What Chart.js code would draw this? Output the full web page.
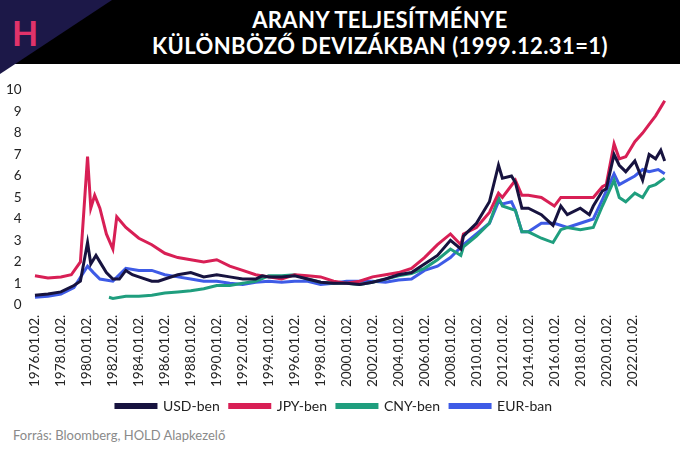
<!DOCTYPE html>
<html>
<head>
<meta charset="utf-8">
<script src="https://cdn.jsdelivr.net/npm/chart.js@4"></script>
<style>
  body { margin: 0; width: 680px; height: 453px; background: #fff; position: relative; overflow: hidden; font-family: Lato, sans-serif; }
  #head { position: absolute; left: 0; top: 0; width: 680px; height: 64px; background: #000; }
  #corner { position: absolute; left: 0; top: 0; width: 0; height: 0; border-top: 74px solid #1c1848; border-right: 112px solid transparent; }
  #logo { position: absolute; left: 12px; top: 12px; color: #e0336a; font: 700 34px Lato, sans-serif; }
  #title { position: absolute; left: 100px; width: 560px; top: 7px; text-align: center; color: #fff; font: 700 22px Lato, sans-serif; line-height: 26px; letter-spacing: 0.4px; }
  #wrap { position: absolute; left: 0; top: 78px; width: 680px; height: 345px; }
  #src { position: absolute; left: 13px; top: 427px; color: #8a8a8a; font-size: 13px; }
</style>
</head>
<body>
<div id="head"></div>
<div id="corner"></div>
<div id="logo">H</div>
<div id="title">ARANY TELJESÍTMÉNYE<br>KÜLÖNBÖZŐ DEVIZÁKBAN (1999.12.31=1)</div>
<div id="wrap"><canvas id="c"></canvas></div>
<div id="src">Forrás: Bloomberg, HOLD Alapkezelő</div>
<script>
// time in decimal years, values relative to 1999.12.31
const usdT = [1976,1977,1978,1979,1979.5,1980.05,1980.3,1980.7,1981,1981.5,1982,1982.5,1983,1983.5,1984,1985,1985.5,1986,1987,1988,1989,1990,1991,1992,1993,1993.5,1994,1995,1996,1997,1998,1999,2000,2001,2002,2003,2004,2005,2006,2007,2008,2008.8,2009,2010,2011,2011.7,2012,2012.7,2013,2013.5,2014,2015,2015.9,2016.5,2017,2018,2018.7,2019,2019.7,2020,2020.6,2021,2021.5,2022.2,2022.8,2023.3,2023.8,2024.2,2024.5];
const usdV = [0.45,0.5,0.6,0.9,1.1,2.9,1.9,2.3,2.0,1.5,1.2,1.2,1.6,1.4,1.3,1.1,1.1,1.2,1.4,1.5,1.3,1.4,1.3,1.2,1.2,1.35,1.3,1.3,1.35,1.2,1.05,1.0,1.0,0.95,1.05,1.2,1.4,1.5,1.9,2.3,3.0,2.6,3.2,3.8,4.8,6.5,5.9,6.0,5.7,4.5,4.5,4.2,3.7,4.6,4.2,4.5,4.2,4.6,5.3,5.4,7.0,6.5,6.2,6.7,5.8,7.0,6.8,7.2,6.7];
const jpyT = [1976,1977,1978,1978.8,1979.5,1980.05,1980.3,1980.6,1981,1981.5,1982,1982.3,1983,1984,1985,1986,1987,1988,1989,1990,1991,1992,1993,1994,1995,1996,1997,1998,1999,2000,2001,2002,2003,2004,2005,2006,2007,2008,2008.8,2009,2010,2011,2011.7,2012,2013,2013.5,2014,2015,2016,2016.5,2017,2018,2019,2019.7,2020,2020.6,2021,2021.5,2022.2,2022.8,2023.3,2023.8,2024.3,2024.5];
const jpyV = [1.35,1.25,1.3,1.4,2.0,6.9,4.5,5.1,4.5,3.3,2.6,4.1,3.6,3.1,2.8,2.4,2.2,2.1,2.0,2.1,1.8,1.6,1.4,1.3,1.2,1.4,1.35,1.3,1.1,1.0,1.1,1.3,1.4,1.5,1.7,2.2,2.8,3.3,2.8,3.3,3.6,4.3,5.2,5.0,5.8,5.1,5.1,5.0,4.6,5.0,5.0,5.0,5.0,5.5,5.6,7.5,6.8,6.9,7.6,8.0,8.4,8.8,9.3,9.5];
const cnyT = [1981.7,1982,1983,1984,1985,1986,1987,1988,1989,1990,1991,1992,1993,1994,1995,1996,1997,1998,1999,2000,2001,2002,2003,2004,2005,2006,2007,2008,2008.8,2009,2010,2011,2011.7,2012,2013,2013.5,2014,2015,2015.9,2016.5,2017,2018,2019,2019.7,2020.6,2021,2021.5,2022.2,2022.8,2023.3,2023.8,2024.5];
const cnyV = [0.35,0.3,0.4,0.4,0.45,0.55,0.6,0.65,0.75,0.9,0.9,1.0,1.1,1.35,1.35,1.4,1.2,1.05,1.0,1.0,0.95,1.05,1.2,1.35,1.45,1.7,2.1,2.6,2.3,2.7,3.2,3.8,5.0,4.6,4.4,3.4,3.4,3.1,2.9,3.5,3.6,3.5,3.6,4.6,5.8,5.0,4.8,5.2,5.0,5.5,5.6,5.9];
const eurT = [1976,1977,1978,1979,1980.05,1980.5,1981,1982,1983,1984,1985,1986,1987,1988,1989,1990,1991,1992,1993,1994,1995,1996,1997,1998,1999,2000,2001,2002,2003,2004,2005,2006,2007,2008,2009,2010,2011,2011.7,2012,2012.7,2013,2013.5,2014,2015,2016,2017,2018,2019,2019.7,2020.6,2021,2022.2,2022.8,2023.3,2024,2024.5];
const eurV = [0.35,0.4,0.5,0.8,1.8,1.5,1.2,1.1,1.7,1.6,1.6,1.4,1.3,1.2,1.1,1.1,1.0,0.95,1.05,1.1,1.05,1.1,1.1,0.95,1.0,1.1,1.1,1.1,1.05,1.15,1.2,1.6,1.8,2.2,2.8,3.3,3.8,4.8,4.7,4.8,4.4,3.4,3.4,3.8,3.8,3.6,3.8,4.0,4.9,6.1,5.6,6.0,6.3,6.2,6.3,6.1];
const seriesNames = ["USD-ben", "JPY-ben", "CNY-ben", "EUR-ban"];
const tickYears = [1976,1978,1980,1982,1984,1986,1988,1990,1992,1994,1996,1998,2000,2002,2004,2006,2008,2010,2012,2014,2016,2018,2020,2022];

const pts = (t, v) => t.map((x, i) => ({ x: x, y: v[i] }));
const mk = (label, t, v, color) => ({
    label: label, data: pts(t, v), borderColor: color, backgroundColor: color,
    borderWidth: 3, pointRadius: 0, tension: 0
});

new Chart(document.getElementById("c"), {
    type: "line",
    data: {
        datasets: [
            mk(seriesNames[0], usdT, usdV, "#17133f"),
            mk(seriesNames[1], jpyT, jpyV, "#d81f55"),
            mk(seriesNames[2], cnyT, cnyV, "#1f9e7e"),
            mk(seriesNames[3], eurT, eurV, "#3e5be6")
        ]
    },
    options: {
        responsive: true,
        maintainAspectRatio: false,
        animation: false,
        layout: { padding: { right: 14, left: 2, top: 4, bottom: 0 } },
        plugins: {
            legend: {
                position: "bottom",
                labels: { boxWidth: 40, boxHeight: 3, color: "#222", font: { family: "Lato", size: 14 }, padding: 10 }
            },
            tooltip: { enabled: false }
        },
        scales: {
            x: {
                type: "linear", min: 1975.9, max: 2024.6,
                grid: { display: false }, border: { display: false },
                afterBuildTicks: ax => { ax.ticks = tickYears.map(y => ({ value: y })); },
                ticks: {
                    autoSkip: false, maxRotation: 90, minRotation: 90, color: "#222",
                    font: { family: "Lato", size: 13.5 }, padding: 2,
                    callback: v => v + ".01.02."
                }
            },
            y: {
                min: 0, max: 10,
                grid: { display: false }, border: { display: false },
                ticks: { stepSize: 1, color: "#222", font: { family: "Lato", size: 13.5 }, padding: 4 }
            }
        }
    }
});
</script>
</body>
</html>
